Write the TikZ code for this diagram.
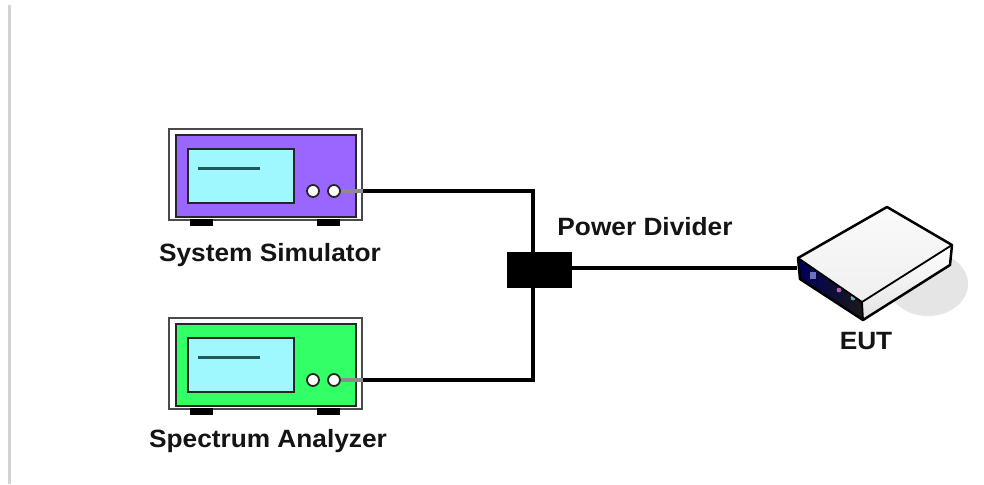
\documentclass[tikz,border=0pt]{standalone}
\usepackage{fontspec}
\setmainfont{Liberation Sans}
\newfontfamily\lblfont[FakeStretch=1.05]{Liberation Sans}
\definecolor{ssfill}{HTML}{9966FF}
\definecolor{safill}{HTML}{33FF66}
\definecolor{scrfill}{HTML}{A0F8FF}
\definecolor{scrline}{HTML}{1F5A5A}
\definecolor{framegray}{HTML}{4A4A4A}
\definecolor{portgray}{HTML}{8C8C8C}
\tikzset{
  lbl/.style={font=\lblfont\fontsize{25}{27}\selectfont\bfseries, text=black!92, inner sep=0pt},
  cable/.style={line width=4pt, black},
  pics/instr/.style={code={
    \node[draw=framegray, line width=2pt, fill=white, minimum width=193pt, minimum height=91pt, inner sep=0pt, anchor=north west] (-frame) at (0,0) {};
    \fill[black] (22,91) rectangle (45,98);
    \fill[black] (149,91) rectangle (172,98);
    \node[draw=black!85, line width=2pt, fill=#1, minimum width=180pt, minimum height=82pt, inner sep=0pt, anchor=north west] (-panel) at (7,6) {};
    \node[draw=black!85, line width=2pt, fill=scrfill, minimum width=106pt, minimum height=54pt, inner sep=0pt, anchor=north west] (-screen) at (19,20) {};
    \draw[scrline, line width=3pt] (30,40) -- (92,40);
    \node[circle, draw=black!85, line width=1.8pt, fill=white, minimum size=12pt, inner sep=0pt] (-p1) at (145,63) {};
    \node[circle, draw=black!85, line width=1.8pt, fill=white, minimum size=12pt, inner sep=0pt] (-port) at (166,63) {};
    \coordinate (-plug) at (195,63);
    \draw[portgray, line width=4pt] (-port.east) -- (-plug);
  }}
}
\begin{document}
\begin{tikzpicture}[x=1pt, y=-1pt]
\useasboundingbox (0,0) rectangle (984,484);
\fill[white] (0,0) rectangle (984,484);
\fill[gray!35] (8,5) rectangle (11,484);

% instruments
\pic (ss) at (168,128) {instr=ssfill};
\pic (sa) at (168,317) {instr=safill};
\node[lbl] (sslbl) at (270,255) {System Simulator};
\node[lbl] (salbl) at (268,441) {Spectrum Analyzer};

% power divider
\node[fill=black, minimum width=65pt, minimum height=36pt, inner sep=0pt] (div) at (539.5,270) {};
\coordinate (divtop) at (533,252);
\coordinate (divbot) at (533,288);
\node[lbl] (divlbl) at (645,227) {Power Divider};

% EUT
\fill[gray!20] (928,284) ellipse [x radius=40, y radius=32];
\coordinate (eA) at (798,258);
\coordinate (eB) at (887,207);
\coordinate (eC) at (952,245);
\coordinate (eD) at (862,302);
\coordinate (eAb) at (800,279);
\coordinate (eCb) at (950,265);
\coordinate (eDb) at (863,320);
\shade[top color=white, bottom color=gray!22] (eD) -- (eC) -- (eCb) -- (eDb) -- cycle;
\shade[left color=black!65!blue, right color=black!90] (eA) -- (eD) -- (eDb) -- (eAb) -- cycle;
\shade[top color=gray!4, bottom color=gray!12] (eA) -- (eB) -- (eC) -- (eD) -- cycle;
\fill[blue!40!gray!80] (810,272) rectangle (816,279);
\fill[violet!60] (839,290) circle (2.4);
\fill[teal!60] (853,298) circle (2.4);
\draw[black, line width=2.5pt, line join=round] (eA) -- (eB) -- (eC) -- (eCb) -- (eDb) -- (eAb) -- cycle;
\draw[black, line width=1.8pt, line join=round] (eA) -- (eD) -- (eC) (eD) -- (eDb);
\coordinate (eutin) at (797,268);
\node[lbl] (eutlbl) at (866,341) {EUT};

% cables
\draw[cable] (ss-plug) -| (divtop);
\draw[cable] (sa-plug) -| (divbot);
\draw[cable] (div.east |- eutin) -- (eutin);
\end{tikzpicture}
\end{document}
